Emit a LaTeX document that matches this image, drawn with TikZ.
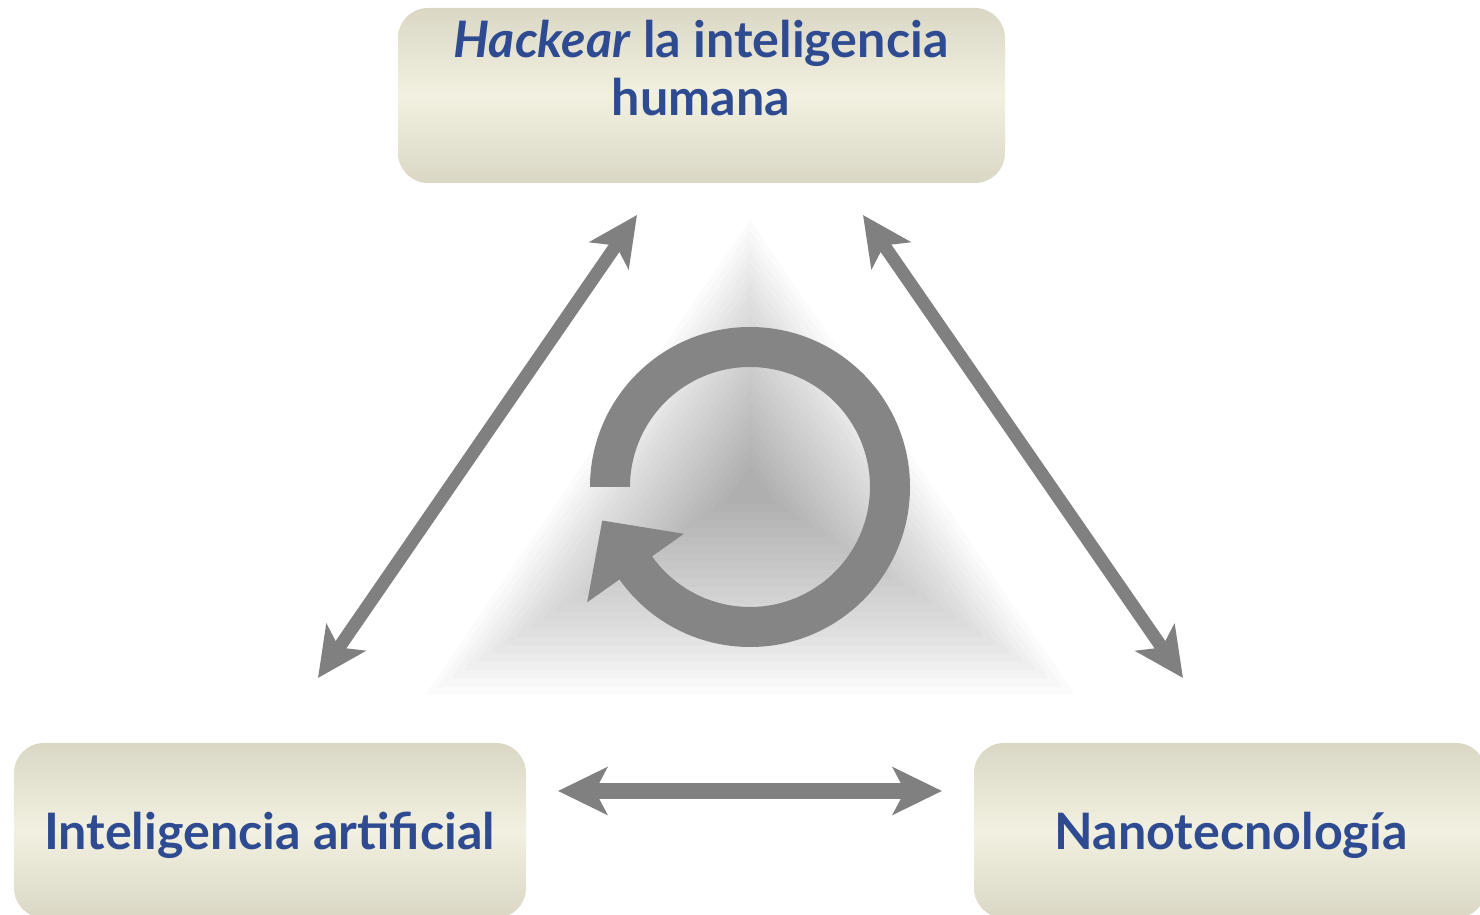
\documentclass[tikz,border=0pt]{standalone}
\usepackage{fontspec}
\setmainfont{Lato}
\usetikzlibrary{arrows.meta,calc}
\definecolor{boxdark}{HTML}{DAD7C5}
\definecolor{boxlight}{HTML}{F2F0E0}
\definecolor{textblue}{HTML}{2E4B91}
\definecolor{arrowgray}{HTML}{808080}
\definecolor{ringgray}{HTML}{858585}

\begin{document}
\begin{tikzpicture}[box/.style={rounded corners=0.3cm, top color=boxdark, bottom color=boxdark, middle color=boxlight, minimum width=5.12cm, minimum height=1.75cm, inner sep=0pt, outer sep=0pt},
title/.style={text=textblue, font=\fontsize{14.3}{16.5}\selectfont\bfseries, align=center, inner sep=0pt},
link/.style={arrowgray, line width=0.13cm, {Stealth[length=0.49cm,width=0.47cm,inset=0.12cm]}-{Stealth[length=0.49cm,width=0.47cm,inset=0.12cm]}}]
\useasboundingbox (0,0) rectangle (14.8,9.15);
\clip (0,0) rectangle (14.8,9.15);

\coordinate (mid) at (7.5,4.28);
\foreach \i in {0,...,23}{
  \pgfmathsetmacro\s{1.0-0.04*\i}
  \fill[black, opacity=0.015, shift={(mid)}, scale=\s] (0,2.67) -- (3.25,-2.08) -- (-3.25,-2.08) -- cycle;
}

\fill[ringgray] ($(mid)+(180:1.6)$) arc[start angle=180, end angle=-144.7, radius=1.6] -- ($(mid)+(-144.7:1.995)$) -- ($(mid)+(-144.7:1.4)+(125.3:0.58)$) -- ($(mid)+(-144.7:0.81)$) -- ($(mid)+(-144.7:1.2)$) arc[start angle=-144.7, end angle=180, radius=1.2] -- cycle;

\coordinate (hackL) at (6.37,7.00);
\coordinate (iaT) at (3.18,2.37);
\coordinate (hackR) at (8.63,7.00);
\coordinate (nanoT) at (11.83,2.37);
\coordinate (iaR) at (5.58,1.24);
\coordinate (nanoL) at (9.42,1.24);
\draw[link] (hackL) -- (iaT);
\draw[link] (hackR) -- (nanoT);
\draw[link, line width=0.16cm] (iaR) -- (nanoL);

\node[box, minimum width=6.07cm] (hack) at (7.015,8.195) {};
\node[box] (ia) at (2.70,0.845) {};
\node[box] (nano) at (12.30,0.845) {};
\node[title, anchor=north] (hacktext) at (7.01,8.96) {\textit{Hackear} la inteligencia\\humana};
\node[title, anchor=base] (iatext) at (2.695,0.65) {Inteligencia artificial};
\node[title, anchor=base] (nanotext) at (12.31,0.65) {Nanotecnología};
\end{tikzpicture}
\end{document}
